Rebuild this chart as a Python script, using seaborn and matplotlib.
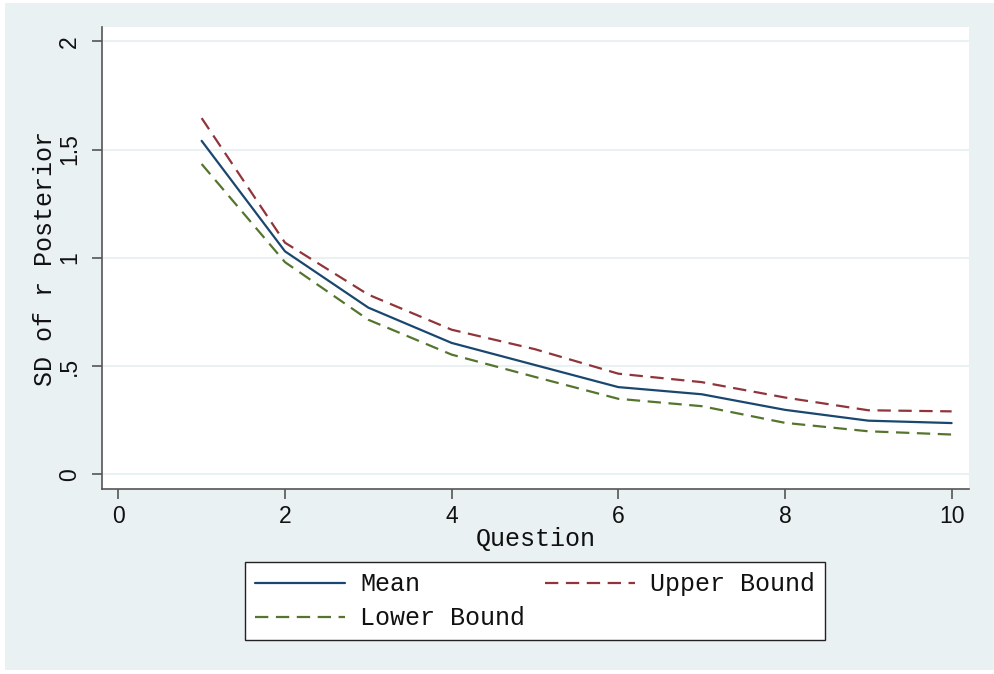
import numpy as np
import pandas as pd
import matplotlib
matplotlib.use("Agg")
import matplotlib.pyplot as plt
import seaborn as sns
from matplotlib.patches import Rectangle

# values
question = [1, 2, 3, 4, 5, 6, 7, 8, 9, 10]
mean_sd = [1.54, 1.03, 0.77, 0.607, 0.505, 0.403, 0.37, 0.298, 0.248, 0.237]
upper_sd = [1.645, 1.07, 0.83, 0.668, 0.578, 0.465, 0.426, 0.355, 0.296, 0.291]
lower_sd = [1.433, 0.98, 0.714, 0.553, 0.45, 0.349, 0.315, 0.238, 0.199, 0.184]
series_names = ["Mean", "Upper Bound", "Lower Bound"]
y_ticks = [0, 0.5, 1, 1.5, 2]
y_ticklabels = ["0", ".5", "1", "1.5", "2"]
x_ticks = [0, 2, 4, 6, 8, 10]

BG = "#eaf1f3"
MONO = "Liberation Mono"
SANS = "Liberation Sans"

df = pd.DataFrame({
    "Question": question * 3,
    "SD": mean_sd + upper_sd + lower_sd,
    "series": [series_names[0]] * 10 + [series_names[1]] * 10 + [series_names[2]] * 10,
})

sns.set_theme(style="white")
fig = plt.figure(figsize=(9.95, 6.74), dpi=100)
fig.patch.set_facecolor("white")
fig.patches.append(Rectangle((0.005, 0.006), 0.995, 0.9895, transform=fig.transFigure,
                             facecolor=BG, edgecolor="none", zorder=-10))
ax = fig.add_axes([0.1025, 0.274, 0.8715, 0.686])
ax.set_facecolor("white")

palette = {"Mean": "#1a476f", "Upper Bound": "#90353b", "Lower Bound": "#55752f"}
dashes = {"Mean": "", "Upper Bound": (6, 3.4), "Lower Bound": (6, 3.4)}
sns.lineplot(data=df, x="Question", y="SD", hue="series", style="series",
             palette=palette, dashes=dashes, linewidth=1.6, ax=ax, zorder=3)

ax.set_xlim(-0.196, 10.21)
ax.set_ylim(-0.069, 2.066)
ax.set_yticks(y_ticks)
ax.set_yticklabels(y_ticklabels, rotation=90, va="center", family=SANS, fontsize=16.5,
                   color="#111111")
ax.set_xticks(x_ticks)
ax.set_xticklabels([str(t) for t in x_ticks], family=SANS, fontsize=16.5, color="#111111")
ax.tick_params(axis="both", length=7, width=1.2, color="#555555", direction="out",
               left=True, bottom=True)
ax.tick_params(axis="y", pad=8)
ax.tick_params(axis="x", pad=4)
ax.grid(axis="y", color=BG, linewidth=1.5)
ax.grid(axis="x", visible=False)
for side in ["top", "right"]:
    ax.spines[side].set_visible(False)
for side in ["left", "bottom"]:
    ax.spines[side].set_color("#555555")
    ax.spines[side].set_linewidth(1.2)

ax.set_xlabel("Question", family=MONO, fontsize=18, color="#111111")
ax.set_ylabel("SD of r Posterior", family=MONO, fontsize=18, color="#111111")
ax.xaxis.set_label_coords(0.5, -0.107)
ax.xaxis.label.set_va("center")
ax.yaxis.set_label_coords(-0.0657, 0.5)
ax.yaxis.label.set_va("center")

handles, labels = ax.get_legend_handles_labels()
lookup = dict(zip(labels, handles))
order = ["Mean", "Lower Bound", "Upper Bound"]
ax.get_legend().remove()
leg = fig.legend([lookup[k] for k in order], order, ncol=2, loc="center",
                 bbox_to_anchor=(0.5377, 0.1076), bbox_transform=fig.transFigure,
                 prop={"family": MONO, "size": 18}, frameon=True, fancybox=False,
                 framealpha=1, edgecolor="#222222", handlelength=3.6, handletextpad=0.6,
                 columnspacing=0.8, labelspacing=0.4, borderpad=0.4)
leg.get_frame().set_linewidth(1.0)
leg.get_frame().set_facecolor("white")
for t in leg.get_texts():
    t.set_color("#111111")

fig.savefig("out.png", dpi=100)
